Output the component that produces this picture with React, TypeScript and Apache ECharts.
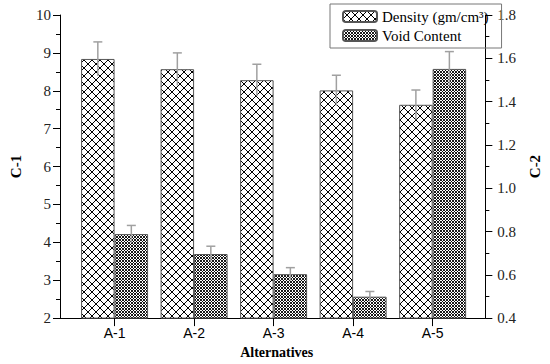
import React, { useEffect, useRef } from 'react';
import * as echarts from 'echarts';

const categories = ['A-1', 'A-2', 'A-3', 'A-4', 'A-5'];
const categoryPositions = [1, 2, 3, 4, 5];
const densityValues = [8.84, 8.57, 8.28, 8.01, 7.63];
const densityErrors = [0.45, 0.43, 0.42, 0.4, 0.39];
const voidValues = [0.788, 0.696, 0.603, 0.499, 1.551];
const voidErrors = [0.04, 0.036, 0.03, 0.024, 0.08];
const densityName = 'Density (gm/cm\u00b3)';
const voidName = 'Void Content';

const SERIF = '"Liberation Serif"';
const SANS = '"Liberation Sans"';

function svgUrl(svg: string) {
  return 'data:image/svg+xml;charset=utf-8,' + encodeURIComponent(svg);
}

const densityPattern = {
  image: svgUrl(
    "<svg xmlns='http://www.w3.org/2000/svg' width='8' height='8'><rect width='8' height='8' fill='white'/><path d='M0 0L8 8M8 0L0 8' stroke='black' stroke-width='1'/></svg>"
  ),
  repeat: 'repeat',
  imageWidth: 8,
  imageHeight: 8,
};

const voidPattern = {
  image: svgUrl(
    "<svg xmlns='http://www.w3.org/2000/svg' width='3' height='3'><rect width='3' height='3' fill='white'/><path d='M0 0L3 3M3 0L0 3' stroke='black' stroke-width='0.9'/></svg>"
  ),
  repeat: 'repeat',
  imageWidth: 3,
  imageHeight: 3,
};

const BAR_W = 33.5;

function errorSeries(name: string, values: number[], errors: number[], yAxisIndex: number, offset: number) {
  return {
    type: 'custom',
    name,
    xAxisIndex: 0,
    yAxisIndex,
    silent: true,
    z: 5,
    encode: { x: 0, y: 1 },
    data: categoryPositions.map((x, i) => [x, values[i], errors[i]]),
    renderItem: (_params: any, api: any) => {
      const x = api.value(0);
      const v = api.value(1);
      const e = api.value(2);
      const top = api.coord([x, v + e]);
      const bot = api.coord([x, v - e]);
      const cx = top[0] + offset;
      const st = { stroke: '#a0a0a0', lineWidth: 1.5 };
      return {
        type: 'group',
        children: [
          { type: 'line', shape: { x1: cx, y1: top[1], x2: cx, y2: bot[1] }, style: st },
          { type: 'line', shape: { x1: cx - 4.5, y1: top[1], x2: cx + 4.5, y2: top[1] }, style: st },
        ],
      };
    },
  };
}

export default function App() {
  const ref = useRef<HTMLDivElement>(null);
  useEffect(() => {
    document.body.style.margin = '0';
    const chart = echarts.init(ref.current!, null, { renderer: 'svg' });
    const axisLine = { show: true, lineStyle: { color: '#000', width: 1 } };
    chart.setOption({
      animation: false,
      backgroundColor: '#fff',
      grid: { left: 52, right: 46, top: 15, bottom: 34 },
      legend: {
        data: [densityName, voidName],
        orient: 'vertical',
        left: 330,
        top: 4,
        itemWidth: 34,
        itemHeight: 11,
        itemGap: 4,
        padding: [5, 13, 5, 12],
        borderColor: '#777',
        borderWidth: 1,
        textStyle: { fontFamily: SERIF, fontSize: 15, color: '#000' },
      },
      xAxis: {
        type: 'value',
        min: 0.3136,
        max: 5.663,
        name: 'Alternatives',
        nameLocation: 'middle',
        nameGap: 19,
        nameTextStyle: { fontFamily: SERIF, fontSize: 14, fontWeight: 'bold', color: '#000', padding: [0, 0, 0, 8] },
        axisLine,
        splitLine: { show: false },
        axisTick: { show: true, inside: false, length: 8, customValues: categoryPositions, lineStyle: { color: '#000' } },
        axisLabel: {
          customValues: categoryPositions,
          formatter: (v: number) => categories[Math.round(v) - 1] ?? '',
          fontFamily: SANS,
          fontSize: 14,
          color: '#000',
          margin: 8,
        },
      },
      yAxis: [
        {
          type: 'value',
          min: 2,
          max: 10,
          interval: 1,
          name: 'C-1',
          nameLocation: 'middle',
          nameRotate: 90,
          nameGap: 37,
          nameTextStyle: { fontFamily: SERIF, fontSize: 15, fontWeight: 'bold', color: '#000' },
          axisLine,
          axisTick: { show: true, inside: false, length: 7, lineStyle: { color: '#000' } },
          minorTick: { show: true, splitNumber: 2, length: 4, lineStyle: { color: '#000' } },
          splitLine: { show: false },
          axisLabel: { fontFamily: SERIF, fontSize: 15, color: '#222', margin: 9 },
        },
        {
          type: 'value',
          min: 0.4,
          max: 1.8,
          interval: 0.2,
          position: 'right',
          name: 'C-2',
          nameLocation: 'middle',
          nameRotate: 90,
          nameGap: 36,
          nameTextStyle: { fontFamily: SERIF, fontSize: 15, fontWeight: 'bold', color: '#000' },
          axisLine,
          axisTick: { show: true, inside: false, length: 7, lineStyle: { color: '#000' } },
          minorTick: { show: true, splitNumber: 2, length: 4, lineStyle: { color: '#000' } },
          splitLine: { show: false },
          axisLabel: {
            fontFamily: SERIF,
            fontSize: 15,
            color: '#222',
            margin: 12,
            formatter: (v: number) => v.toFixed(1),
          },
        },
      ],
      series: [
        {
          type: 'bar',
          name: densityName,
          xAxisIndex: 0,
          yAxisIndex: 0,
          barWidth: BAR_W,
          barGap: '0%',
          data: categoryPositions.map((x, i) => [x, densityValues[i]]),
          itemStyle: { color: densityPattern, borderColor: '#555', borderWidth: 1 },
        },
        {
          type: 'bar',
          name: voidName,
          xAxisIndex: 0,
          yAxisIndex: 1,
          barWidth: BAR_W,
          barGap: '0%',
          data: categoryPositions.map((x, i) => [x, voidValues[i]]),
          itemStyle: { color: voidPattern, borderColor: '#555', borderWidth: 1 },
        },
        errorSeries('density-error', densityValues, densityErrors, 0, -BAR_W / 2),
        errorSeries('void-error', voidValues, voidErrors, 1, BAR_W / 2),
      ],
    });
    return () => chart.dispose();
  }, []);
  return (
    <div
      ref={ref}
      style={{ position: 'absolute', left: 0, top: 0, width: 550, height: 364 }}
    />
  );
}
